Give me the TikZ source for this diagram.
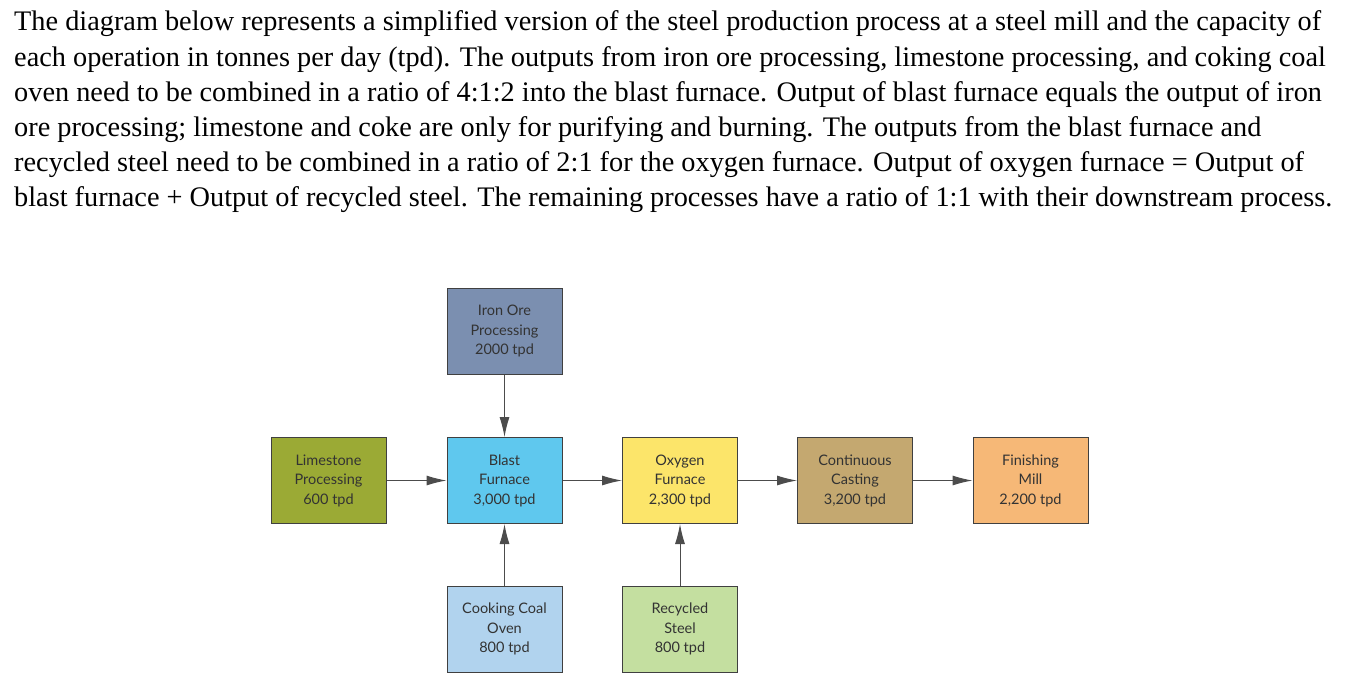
\documentclass[tikz,border=0pt]{standalone}
\usepackage{fontspec}
\setmainfont{Liberation Serif}
\newfontfamily\boxfont{Lato}
\usetikzlibrary{arrows.meta}
\tikzset{
  proc/.style={draw=black!75, line width=1pt, minimum width=115pt, minimum height=86pt, align=center, font=\boxfont\fontsize{14.5}{19.5}\selectfont, text=black!80},
  para/.style={anchor=west, inner sep=0pt, font=\fontsize{28.3}{30}\selectfont},
  flow/.style={draw=black!70, line width=1pt, -{Latex[length=20pt,width=10pt]}}
}
\begin{document}
\begin{tikzpicture}[x=1pt,y=-1pt]
\useasboundingbox (0,0) rectangle (1355,686);
\node[para] (l1) at (14,24) {The diagram below represents a simplified version of the steel production process at a steel mill and the capacity of};
\node[para] (l2) at (14,60) {each operation in tonnes per day (tpd). The outputs from iron ore processing, limestone processing, and coking coal};
\node[para] (l3) at (14,95) {oven need to be combined in a ratio of 4:1:2 into the blast furnace. Output of blast furnace equals the output of iron};
\node[para] (l4) at (14,130) {ore processing; limestone and coke are only for purifying and burning. The outputs from the blast furnace and};
\node[para] (l5) at (14,165) {recycled steel need to be combined in a ratio of 2:1 for the oxygen furnace. Output of oxygen furnace = Output of};
\node[para] (l6) at (14,200) {blast furnace + Output of recycled steel. The remaining processes have a ratio of 1:1 with their downstream process.};

\node[proc, fill={rgb,255:red,123;green,143;blue,176}] (iron) at (504.5,331) {Iron Ore\\Processing\\2000 tpd};
\node[proc, fill={rgb,255:red,155;green,170;blue,53}] (lime) at (328.5,480.5) {Limestone\\Processing\\600 tpd};
\node[proc, fill={rgb,255:red,95;green,200;blue,238}] (blast) at (504.5,480.5) {Blast\\Furnace\\3,000 tpd};
\node[proc, fill={rgb,255:red,252;green,229;blue,106}] (oxy) at (680,480.5) {Oxygen\\Furnace\\2,300 tpd};
\node[proc, fill={rgb,255:red,196;green,168;blue,112}] (cast) at (855,480.5) {Continuous\\Casting\\3,200 tpd};
\node[proc, fill={rgb,255:red,246;green,184;blue,119}] (mill) at (1030.5,480.5) {Finishing\\Mill\\2,200 tpd};
\node[proc, fill={rgb,255:red,177;green,211;blue,238}] (coal) at (504.5,629) {Cooking Coal\\Oven\\800 tpd};
\node[proc, fill={rgb,255:red,196;green,223;blue,160}] (rec) at (680,629) {Recycled\\Steel\\800 tpd};

\draw[flow] (iron) -- (blast);
\draw[flow] (lime) -- (blast);
\draw[flow] (coal) -- (blast);
\draw[flow] (blast) -- (oxy);
\draw[flow] (rec) -- (oxy);
\draw[flow] (oxy) -- (cast);
\draw[flow] (cast) -- (mill);
\end{tikzpicture}
\end{document}
